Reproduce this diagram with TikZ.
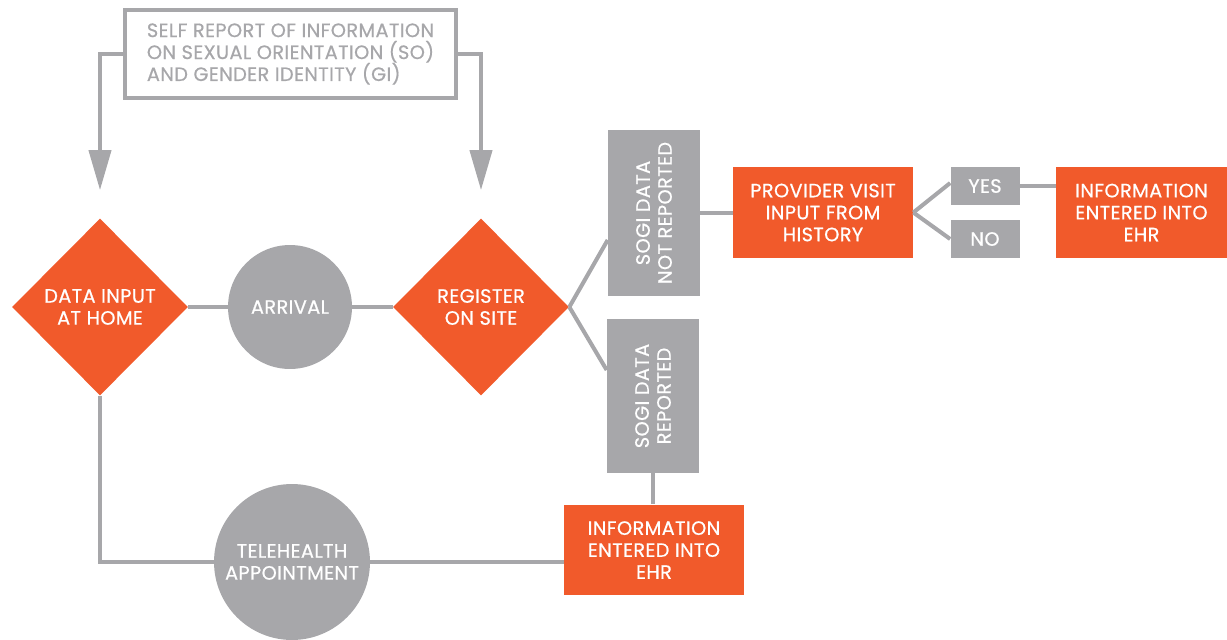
\documentclass[tikz,border=0pt]{standalone}
\usepackage{fontspec}
\setmainfont{Poppins}[FakeBold=0.6, LetterSpace=2]
\usetikzlibrary{shapes.geometric,arrows.meta}

\definecolor{sogiorange}{HTML}{F15A2B}
\definecolor{sogigray}{HTML}{A7A7AA}

\tikzset{
  flow/.style={draw=sogigray, line width=2.3pt},
  arr/.style={flow, -{Triangle[width=0.44cm,length=0.8cm]}},
  decision/.style={diamond, fill=sogiorange, text=white, align=center, inner sep=0pt, minimum width=3.52cm, minimum height=3.54cm},
  stage/.style={circle, fill=sogigray, text=white, align=center, inner sep=0pt},
  action/.style={rectangle, fill=sogiorange, text=white, align=center, minimum width=3.6cm, minimum height=1.82cm},
  answer/.style={rectangle, fill=sogigray, text=white, minimum width=1.38cm, minimum height=0.76cm},
  sogibox/.style={rectangle, fill=sogigray, minimum width=1.84cm},
}

\begin{document}
\begin{tikzpicture}[x=0.02cm, y=-0.02cm, every node/.style={font=\fontsize{11}{12.5}\selectfont}]
    \useasboundingbox (0,0) rectangle (1227,639);

    % Source of the SO/GI information
    \node[draw=sogigray, line width=2.3pt, text=sogigray, align=left, minimum width=6.62cm, minimum height=1.76cm] (selfreport) at (290.5,54) {SELF REPORT OF INFORMATION\\
        ON SEXUAL ORIENTATION (SO)\\
        AND GENDER IDENTITY (GI)};

    % Main row
    \node[decision] (home) at (100,307) {DATA INPUT\\AT HOME};
    \node[stage, minimum size=2.48cm] (arrival) at (290,307) {ARRIVAL};
    \node[decision] (register) at (481,307) {REGISTER\\ON SITE};

    % SOGI outcome boxes
    \node[sogibox, minimum height=3.32cm] (notrep) at (654,213) {};
    \node[rotate=90, text=white, align=center] at (notrep) {SOGI DATA\\NOT REPORTED};
    \node[sogibox, minimum height=3.08cm] (rep) at (653,396) {};
    \node[rotate=90, text=white, align=center] at (rep) {SOGI DATA\\REPORTED};

    % Provider branch
    \node[action] (provider) at (823,212.5) {PROVIDER VISIT\\INPUT FROM\\HISTORY};
    \node[answer] (yes) at (985,186) {YES};
    \node[answer] (no) at (985,239) {NO};
    \node[action, minimum width=3.42cm] (ehrtop) at (1141.5,212.5) {INFORMATION\\ENTERED INTO\\EHR};

    % Telehealth branch
    \node[stage, minimum size=3.12cm] (tele) at (292,562) {TELEHEALTH\\APPOINTMENT};
    \node[action] (ehrbottom) at (654,550) {INFORMATION\\ENTERED INTO\\EHR};

    % Edges
    \draw[arr, shorten >=0.56cm] (selfreport.west) -| (home.north);
    \draw[arr, shorten >=0.56cm] (selfreport.east) -| (register.north);
    \draw[flow] (home) -- (arrival);
    \draw[flow] (arrival) -- (register);
    \draw[flow] (register.east) -- ([yshift=-0.54cm]notrep.west);
    \draw[flow] (register.east) -- ([yshift=0.52cm]rep.west);
    \draw[flow] (notrep.east) -- (notrep.east -| provider.west);
    \draw[flow] (provider.east) -- ([yshift=0.06cm]yes.west);
    \draw[flow] (provider.east) -- (no.west);
    \draw[flow] (yes.east) -- (yes.east -| ehrtop.west);
    \draw[flow] (rep.south) -- (rep.south |- ehrbottom.north);
    \draw[flow] (home.south) |- (tele.west);
    \draw[flow] (tele.east) -- (tele.east -| ehrbottom.west);
\end{tikzpicture}
\end{document}
